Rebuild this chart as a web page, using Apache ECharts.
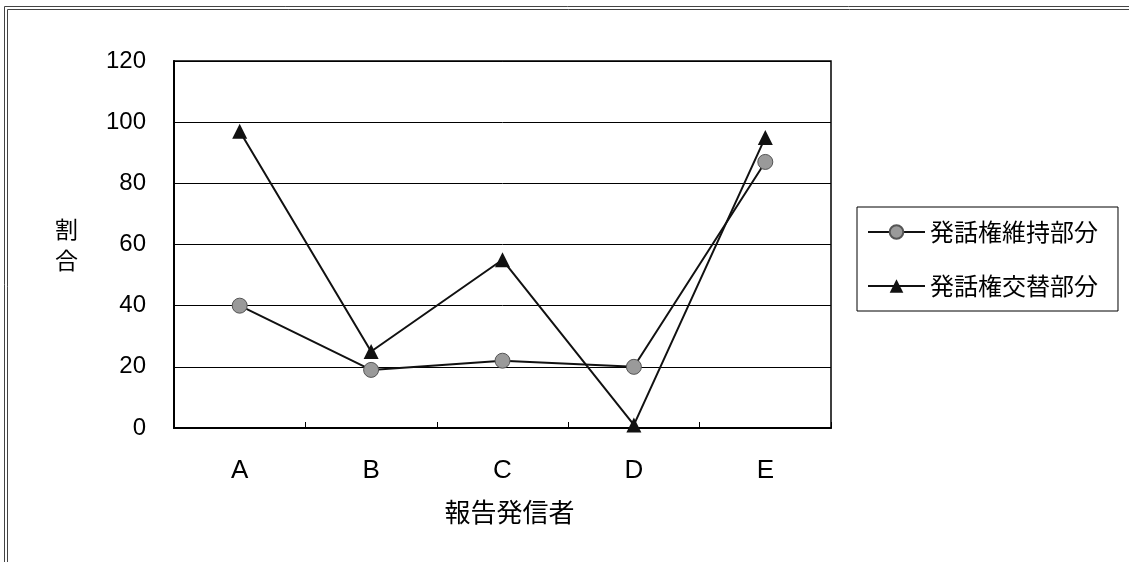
<!DOCTYPE html>
<html>
<head>
<meta charset="utf-8">
<script src="https://cdn.jsdelivr.net/npm/echarts@6/dist/echarts.min.js"></script>
<style>
  html, body { margin: 0; padding: 0; background: #fff; }
  #chart { width: 1129px; height: 562px; }
</style>
</head>
<body>
<div id="chart"></div>
<script>
// Reporters on the category axis
const categories = ['A', 'B', 'C', 'D', 'E'];
// Share (%) in turn-keeping segments
const keepValues = [40, 19, 22, 20, 87];
// Share (%) in turn-exchange segments
const changeValues = [97, 25, 55, 1, 95];
const seriesNames = ['発話権維持部分', '発話権交替部分'];
const yTicks = { min: 0, max: 120, interval: 20 };

const FONT = '"Liberation Sans", "Noto Sans CJK JP", sans-serif';
const CJK = '"Noto Sans CJK JP", sans-serif';

const chart = echarts.init(document.getElementById('chart'), null, { renderer: 'canvas' });

chart.setOption({
  backgroundColor: '#ffffff',
  animation: false,
  textStyle: { fontFamily: FONT, color: '#000' },
  graphic: [
    // double frame around the whole chart
    { type: 'rect', shape: { x: 4.5, y: 6.5, width: 1140, height: 600 },
      style: { fill: 'none', stroke: '#444', lineWidth: 1 }, silent: true },
    { type: 'rect', shape: { x: 7.5, y: 9.5, width: 1140, height: 600 },
      style: { fill: 'none', stroke: '#444', lineWidth: 1 }, silent: true }
  ],
  grid: {
    left: 174, top: 61, right: 298, bottom: 134,
    show: true, borderColor: '#000', borderWidth: 1.5, backgroundColor: 'transparent'
  },
  legend: {
    orient: 'vertical',
    left: 857, top: 207,
    data: seriesNames,
    itemWidth: 57, itemHeight: 17, itemGap: 26,
    padding: [11, 20, 11, 10],
    borderColor: '#000', borderWidth: 1,
    textStyle: { fontFamily: CJK, fontSize: 24, color: '#000', lineHeight: 28 }
  },
  xAxis: {
    type: 'category',
    data: categories,
    boundaryGap: true,
    name: '報告発信者',
    nameLocation: 'middle',
    nameGap: 71,
    nameTextStyle: { fontFamily: CJK, fontSize: 26, color: '#000', padding: [0, 0, 0, 14] },
    axisLine: { lineStyle: { color: '#000', width: 2 } },
    axisTick: { show: true, inside: true, length: 6, alignWithLabel: false, lineStyle: { color: '#000', width: 1 } },
    axisLabel: { fontFamily: FONT, fontSize: 26, color: '#000', margin: 30 },
    splitLine: { show: false }
  },
  yAxis: {
    type: 'value',
    min: yTicks.min, max: yTicks.max, interval: yTicks.interval,
    name: '割\n合',
    nameLocation: 'middle',
    nameRotate: 0,
    nameGap: 96,
    nameTextStyle: { fontFamily: CJK, fontSize: 23, color: '#000', lineHeight: 31 },
    axisLine: { show: true, lineStyle: { color: '#000', width: 2 } },
    axisTick: { show: false },
    axisLabel: { fontFamily: FONT, fontSize: 24, color: '#000', margin: 28 },
    splitLine: { show: true, lineStyle: { color: '#000', width: 1 } }
  },
  series: [
    {
      name: seriesNames[0],
      type: 'line',
      data: keepValues,
      symbol: 'circle',
      symbolSize: 15,
      lineStyle: { color: '#111', width: 2 },
      itemStyle: { color: '#9a9a9a', borderColor: '#555', borderWidth: 1 },
      z: 3
    },
    {
      name: seriesNames[1],
      type: 'line',
      data: changeValues,
      symbol: 'triangle',
      symbolSize: 15,
      lineStyle: { color: '#111', width: 2 },
      itemStyle: { color: '#111', borderColor: '#111', borderWidth: 0 },
      z: 4
    }
  ]
});
</script>
</body>
</html>
